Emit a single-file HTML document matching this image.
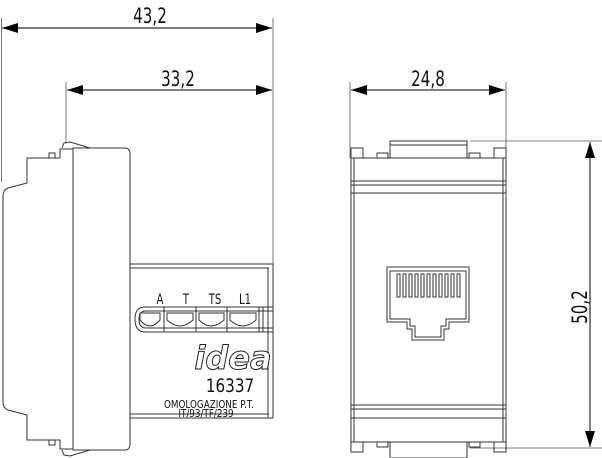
<!DOCTYPE html>
<html><head><meta charset="utf-8"><style>
html,body{margin:0;padding:0;background:#fff;}
svg{display:block;}
text{font-family:"DejaVu Sans","Liberation Sans",sans-serif;fill:#111;}
</style></head><body>
<svg width="602" height="458" viewBox="0 0 602 458" xmlns="http://www.w3.org/2000/svg">
<defs>
<marker id="a" viewBox="0 0 16 10" refX="16" refY="5" markerWidth="16" markerHeight="10" orient="auto-start-reverse" markerUnits="userSpaceOnUse"><path d="M0,0 L16,5 L0,10 z" fill="#000"/></marker>
</defs>
<g stroke="#555" stroke-width="0.8" fill="none">
<line x1="1.5" y1="18" x2="1.5" y2="182"/>
<line x1="273" y1="18" x2="273" y2="264"/>
<line x1="66" y1="82" x2="66" y2="143"/>
<line x1="350" y1="82" x2="350" y2="158"/>
<line x1="506" y1="82" x2="506" y2="150"/>
<line x1="470" y1="141" x2="602" y2="141"/>
<line x1="470" y1="448" x2="602" y2="448"/>
</g>
<g stroke="#000" stroke-width="1" fill="none">
<line x1="2" y1="28" x2="272" y2="28" marker-start="url(#a)" marker-end="url(#a)"/>
<line x1="67" y1="90" x2="272" y2="90" marker-start="url(#a)" marker-end="url(#a)"/>
<line x1="351" y1="90" x2="505" y2="90" marker-start="url(#a)" marker-end="url(#a)"/>
<line x1="590" y1="142" x2="590" y2="447" marker-start="url(#a)" marker-end="url(#a)"/>
</g>
<g font-size="21">
<text transform="translate(150,23) scale(0.72,1)" text-anchor="middle">43,2</text>
<text transform="translate(178,86) scale(0.72,1)" text-anchor="middle">33,2</text>
<text transform="translate(428,86) scale(0.72,1)" text-anchor="middle">24,8</text>
<text transform="translate(587,307) rotate(-90) scale(0.72,1)" text-anchor="middle">50,2</text>
</g>

<!-- side view -->
<g stroke="#333" stroke-width="1" fill="none">
<path d="M73,149 L60,149 L60,158 L27,158 L27,183 L8,188 Q3,190 3,196 L3,402 Q3,408 8,410 L27,415 L27,440 L60,440 L60,449 L73,449"/>
<rect x="49" y="153" width="6" height="5"/>
<rect x="49" y="440" width="6" height="5"/>
<path d="M73,148 L125,148 Q130,148 130,154 L130,444 Q130,450 125,450 L73,450 Z"/>
<line x1="73" y1="148" x2="73" y2="450"/>
<path d="M62,148 L64,143 L70,142 L90,148"/>
<path d="M62,450 L64,455 L70,456 L90,450"/>
<rect x="130" y="264" width="143" height="154"/>
<line x1="130" y1="268" x2="269" y2="268"/>
<line x1="268" y1="268" x2="268" y2="418"/>
<line x1="130" y1="414" x2="269" y2="414"/>
<path d="M273,307 L145,307 Q135,307 135,319 Q135,332 145,332 L273,332"/>
<path d="M273,311 L146,311 Q139,311 139,319 Q139,328 146,328 L273,328"/>
<g>
<path d="M140,313 L160,313 L160,320 Q150,332 140,320 Z"/>
<path d="M167,313 L193,313 L193,320 Q180,332 167,320 Z"/>
<path d="M199,313 L224,313 L224,320 Q211,332 199,320 Z"/>
<path d="M230,313 L256,313 L256,320 Q243,332 230,320 Z"/>
<line x1="164" y1="307" x2="164" y2="332"/>
<line x1="196" y1="307" x2="196" y2="332"/>
<line x1="227" y1="307" x2="227" y2="332"/>
<line x1="259" y1="307" x2="259" y2="332"/>
<line x1="263" y1="307" x2="263" y2="332"/>
</g>
</g>
<g font-size="14">
<text transform="translate(160,304) scale(0.72,1)" text-anchor="middle">A</text>
<text transform="translate(186,304) scale(0.72,1)" text-anchor="middle">T</text>
<text transform="translate(215,304) scale(0.72,1)" text-anchor="middle">TS</text>
<text transform="translate(245,304) scale(0.72,1)" text-anchor="middle">L1</text>
</g>
<text x="233" y="369" font-size="32" font-style="italic" font-weight="bold" text-anchor="middle" style="fill:#fff;stroke:#222;stroke-width:1" font-family="Liberation Serif">idea</text>
<text transform="translate(230,392) scale(0.8,1)" font-size="19" text-anchor="middle">16337</text>
<text transform="translate(209,408) scale(0.8,1)" font-size="11" text-anchor="middle">OMOLOGAZIONE P.T.</text>
<text transform="translate(206,417) scale(0.8,1)" font-size="11" text-anchor="middle">IT/93/TF/239</text>

<!-- front view -->
<g stroke="#333" stroke-width="1" fill="none">
<rect x="351" y="158" width="155" height="284"/>
<line x1="354" y1="158" x2="354" y2="442"/>
<line x1="503" y1="158" x2="503" y2="442"/>
<line x1="351" y1="181" x2="506" y2="181"/>
<line x1="351" y1="185" x2="506" y2="185"/>
<line x1="351" y1="193" x2="506" y2="193"/>
<line x1="351" y1="405" x2="506" y2="405"/>
<line x1="351" y1="409" x2="506" y2="409"/>
<line x1="351" y1="418" x2="506" y2="418"/>
<rect x="351" y="148" width="12" height="10"/>
<rect x="494" y="148" width="12" height="10"/>
<rect x="377" y="153" width="11" height="5"/>
<rect x="469" y="153" width="11" height="5"/>
<rect x="390" y="141" width="77" height="17"/>
<line x1="390" y1="145" x2="467" y2="145"/>
<rect x="351" y="442" width="12" height="10"/>
<rect x="494" y="442" width="12" height="10"/>
<rect x="377" y="442" width="11" height="5"/>
<rect x="469" y="442" width="11" height="5"/>
<rect x="390" y="442" width="77" height="16"/>
<path d="M387,267 L469,267 L469,322 L449,322 L449,329 L444,329 L444,340 L412,340 L412,329 L407,329 L407,322 L387,322 Z"/>
<path d="M390,271 L466,271 L466,319 L446,319 L446,326 L441,326 L441,337 L415,337 L415,326 L410,326 L410,319 L390,319 Z"/>
<g>
<rect x="397" y="274" width="3" height="23"/>
<rect x="403" y="274" width="3" height="23"/>
<rect x="409" y="274" width="3" height="23"/>
<rect x="415" y="274" width="3" height="23"/>
<rect x="421" y="274" width="3" height="23"/>
<rect x="427" y="274" width="3" height="23"/>
<rect x="433" y="274" width="3" height="23"/>
<rect x="439" y="274" width="3" height="23"/>
<rect x="445" y="274" width="3" height="23"/>
<rect x="451" y="274" width="3" height="23"/>
<rect x="457" y="274" width="3" height="23"/>
</g>
</g>
</svg>
</body></html>
